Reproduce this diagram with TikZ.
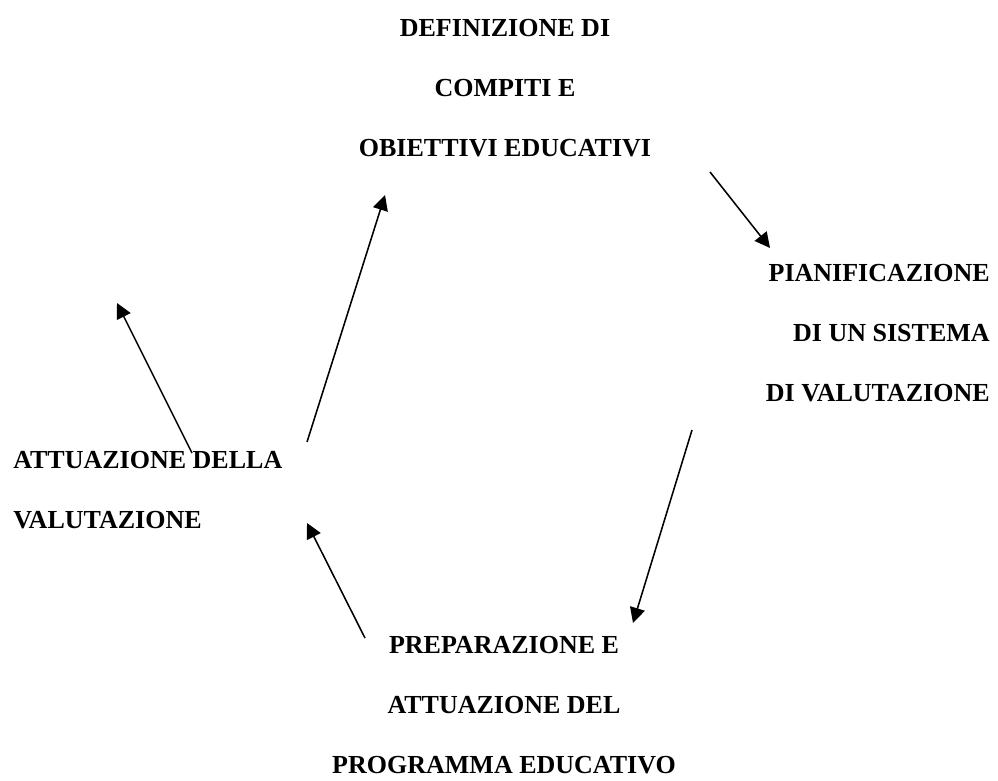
\documentclass[tikz,border=0pt]{standalone}
\usepackage{fontspec}
\setmainfont{Liberation Serif}
\usetikzlibrary{arrows.meta}

\begin{document}
\begin{tikzpicture}[
    txt/.style={font=\fontsize{18.5}{42.7}\selectfont\bfseries,inner sep=0pt},
    arr/.style={line width=1.1pt,-{Triangle[length=0.38cm,width=0.38cm]}}]
    \useasboundingbox (0,0) rectangle (24.95,19.5);

    %blocks
    \node[txt,align=center,anchor=north] (def) at (12.625,19.02) {DEFINIZIONE DI\\COMPITI E\\OBIETTIVI EDUCATIVI};
    \node[txt,align=right,anchor=north east] (pian) at (24.75,12.9) {PIANIFICAZIONE\\DI UN SISTEMA\\DI VALUTAZIONE};
    \node[txt,align=center,anchor=north] (prep) at (12.6,3.6) {PREPARAZIONE E\\ATTUAZIONE DEL\\PROGRAMMA EDUCATIVO};
    \node[txt,align=left,anchor=north west] (att) at (0.325,8.225) {ATTUAZIONE DELLA\\VALUTAZIONE};

    %arrow ends
    \coordinate (s1) at (17.75,15.2);
    \coordinate (e1) at (19.25,13.3);
    \coordinate (s2) at (17.3,8.75);
    \coordinate (e2) at (15.825,3.925);
    \coordinate (s3) at (9.125,3.55);
    \coordinate (e3) at (7.675,6.425);
    \coordinate (s4) at (7.675,8.45);
    \coordinate (e4) at (9.625,14.625);
    \coordinate (s5) at (4.8,8.175);
    \coordinate (e5) at (2.925,11.925);

    \draw[arr] (s1) -- (e1);
    \draw[arr] (s2) -- (e2);
    \draw[arr] (s3) -- (e3);
    \draw[arr] (s4) -- (e4);
    \draw[arr] (s5) -- (e5);

\end{tikzpicture}
\end{document}
